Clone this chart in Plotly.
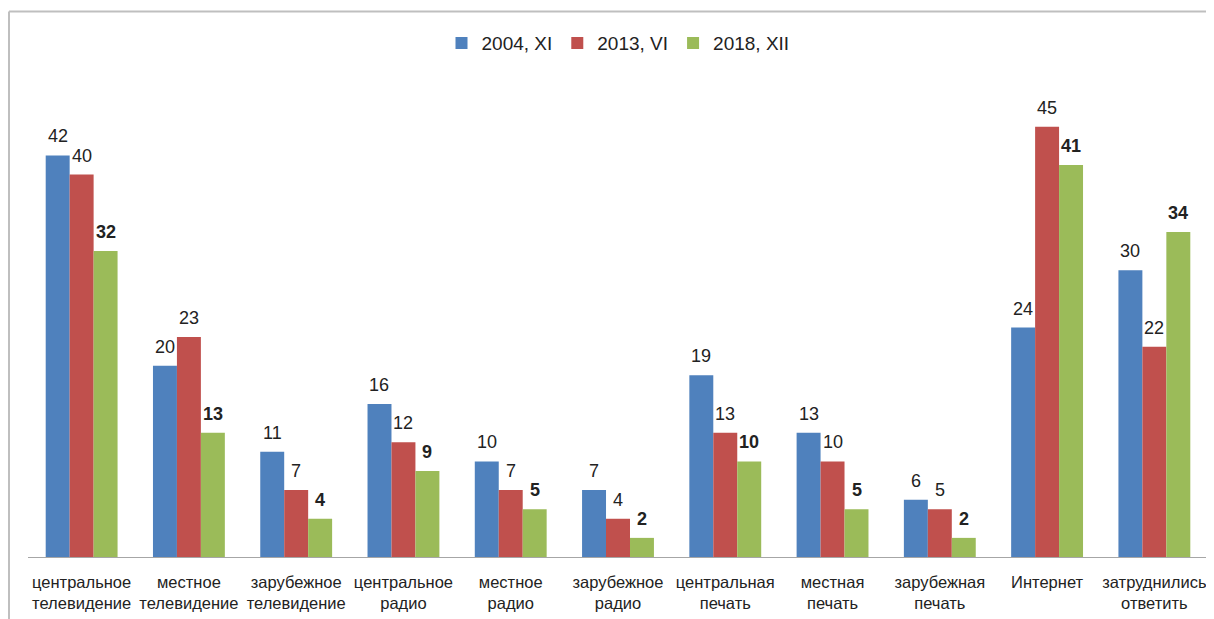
import plotly.graph_objects as go

categories = ["центральное<br>телевидение", "местное<br>телевидение", "зарубежное<br>телевидение",
              "центральное<br>радио", "местное<br>радио", "зарубежное<br>радио",
              "центральная<br>печать", "местная<br>печать", "зарубежная<br>печать",
              "Интернет", "затруднились<br>ответить"]
series_names = ["2004, XI", "2013, VI", "2018, XII"]
v2004 = [42, 20, 11, 16, 10, 7, 19, 13, 6, 24, 30]
v2013 = [40, 23, 7, 12, 7, 4, 13, 10, 5, 45, 22]
v2018 = [32, 13, 4, 9, 5, 2, 10, 5, 2, 41, 34]
colors = ["#4F81BD", "#C0504D", "#9BBB59"]

fig = go.Figure()
annotations = []
for k, (name, vals, col, bold) in enumerate(zip(series_names, [v2004, v2013, v2018], colors, [False, False, True])):
    fig.add_trace(go.Bar(
        x=categories, y=vals, name=name, marker=dict(color=col, line=dict(width=0)),
    ))
    for cat, v in zip(categories, vals):
        annotations.append(dict(
            x=cat, y=v, xref="x", yref="y", xshift=(k - 1) * 24, yshift=7,
            yanchor="bottom", xanchor="center", showarrow=False,
            text=(f"<b>{v}</b>" if bold else str(v)),
            font=dict(family="Liberation Sans", size=18, color="#222222"),
        ))

fig.update_layout(
    width=1214, height=619,
    margin=dict(l=20, r=14, t=71, b=70),
    paper_bgcolor="white", plot_bgcolor="white",
    barmode="group", bargap=0.33, bargroupgap=0,
    showlegend=True,
    legend=dict(orientation="h", x=0.5, xanchor="center", y=1.075, yanchor="middle",
                font=dict(family="Liberation Sans Narrow, Liberation Sans", size=19, color="#222222"),
                itemwidth=30, traceorder="normal"),
    xaxis=dict(showline=True, linecolor="#A6A6A6", linewidth=1, ticks="",
               ticklabelstandoff=10,
               tickfont=dict(family="Liberation Sans", size=16.5, color="#222222")),
    yaxis=dict(range=[0, 50], visible=False, showgrid=False, zeroline=False),
    font=dict(family="Liberation Sans"),
    annotations=annotations,
    shapes=[
        dict(type="line", xref="paper", yref="paper", x0=-0.0161, x1=1.01, y0=1.141, y1=1.141,
             line=dict(color="#BFBFBF", width=2)),
        dict(type="line", xref="paper", yref="paper", x0=-0.0161, x1=-0.0161, y0=1.141, y1=-0.14,
             line=dict(color="#BFBFBF", width=2)),
    ],
)

fig.write_html("out.html")
